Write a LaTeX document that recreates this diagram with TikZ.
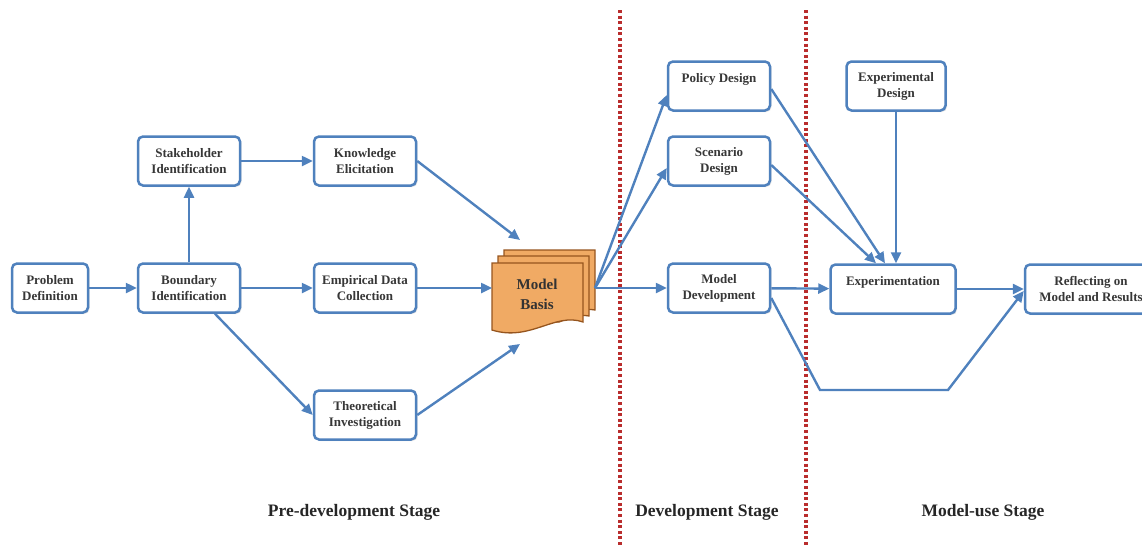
\documentclass[tikz,border=0pt]{standalone}
\usepackage{fontspec}
\setmainfont{Liberation Serif}
\usetikzlibrary{arrows.meta,shadows,calc}
\definecolor{lblue}{RGB}{79,129,189}
\definecolor{dred}{RGB}{185,45,45}
\definecolor{orng}{RGB}{240,170,100}
\definecolor{obrd}{RGB}{150,85,30}
\definecolor{txt}{RGB}{55,55,55}
\begin{document}
\begin{tikzpicture}[x=1pt,y=-1pt,
  box/.style={draw=lblue, line width=2.5pt, fill=white, rounded corners=5pt,
    minimum width=102pt, minimum height=49pt, align=center,
    font=\fontsize{13}{16}\selectfont\bfseries, text=txt, inner sep=1pt,
    drop shadow={shadow xshift=1.5pt, shadow yshift=-1.5pt, opacity=0.2}},
  arr/.style={draw=lblue, line width=2.4pt, -{Triangle[length=11pt,width=10pt]}},
  divider/.style={draw=dred, line width=3.4pt, dash pattern=on 3pt off 2.6pt},
  doc/.style={fill=orng, draw=obrd, line width=1.3pt},
  stage/.style={font=\fontsize{17.5}{20}\selectfont\bfseries, text=black!85}
]
\useasboundingbox (0,0) rectangle (1142,546);
\clip (0,0) rectangle (1142,546);

% stage dividers
\coordinate (d1t) at (620,10); \coordinate (d1b) at (620,546);
\coordinate (d2t) at (806,10); \coordinate (d2b) at (806,546);
\draw[divider] (d1t) -- (d1b);
\draw[divider] (d2t) -- (d2b);

% boxes
\node[box, minimum width=76pt] (pd) at (50,288) {Problem\\Definition};
\node[box] (bi) at (189,288) {Boundary\\Identification};
\node[box] (si) at (189,161) {Stakeholder\\Identification};
\node[box] (ke) at (365,161) {Knowledge\\Elicitation};
\node[box] (ed) at (365,288) {Empirical Data\\Collection};
\node[box] (ti) at (365,415) {Theoretical\\Investigation};
\node[box] (pol) at (719,86) {Policy Design\\\mbox{}};
\node[box] (sce) at (719,161) {Scenario\\Design};
\node[box] (md) at (719,288) {Model\\Development};
\node[box, minimum width=99pt] (exd) at (896,86) {Experimental\\Design};
\node[box, minimum width=125pt] (exp) at (893,289) {Experimentation\\\mbox{}};
\node[box, minimum width=132pt] (ref) at (1091,289) {Reflecting on\\Model and Results};

% model basis (stacked documents)
\draw[doc] (504,250) -- (595,250) -- (595,310) .. controls (585,308) and (575,312) .. (565,316) -- (504,316) -- cycle;
\draw[doc] (498,256) -- (589,256) -- (589,316) .. controls (579,314) and (569,318) .. (559,322) -- (498,322) -- cycle;
\draw[doc] (492,263) -- (583,263) -- (583,322) .. controls (555,312) and (530,342) .. (492,330) -- cycle;
\node[inner sep=0, minimum width=91pt, minimum height=67pt, align=center,
  font=\fontsize{15}{20}\selectfont\bfseries, text=black!80] (mb) at (537,294) {Model\\Basis};
\coordinate (mbw) at (492,288);
\coordinate (mbe) at (595,288);
\coordinate (mbt) at (520,240);
\coordinate (mbb) at (520,344);

% connectors
\draw[arr] (pd) -- (bi);
\draw[arr] (bi) -- (si);
\draw[arr] (si) -- (ke);
\draw[arr] (bi) -- (ed);
\draw[arr] ([xshift=26pt]bi.south) -- (ti.west);
\draw[arr] (ke.east) -- (mbt);
\draw[arr] (ed) -- (mbw);
\draw[arr] (ti.east) -- (mbb);
\draw[arr] (mbe) -- ([yshift=-9pt]pol.west);
\draw[arr] (mbe) -- ([yshift=-7pt]sce.west);
\draw[arr] (mbe) -- (md.west);
\draw[arr] ([yshift=-3pt]pol.east) -- ([xshift=-8pt]exp.north);
\draw[arr] ([yshift=-4pt]sce.east) -- ([xshift=-17pt]exp.north);
\draw[arr] (exd.south) -- (exd.south |- exp.north);
\draw[arr] (md) -- (exp);
\draw[arr] (exp) -- (ref);
\coordinate (b1) at (820,390);
\coordinate (b2) at (948,390);
\draw[arr] ([yshift=-10pt]md.east) -- (b1) -- (b2) -- ([yshift=-2pt]ref.west);

% stage labels
\node[stage] (s1) at (354,512) {Pre-development Stage};
\node[stage] (s2) at (707,512) {Development Stage};
\node[stage] (s3) at (983,512) {Model-use Stage};
\end{tikzpicture}
\end{document}
